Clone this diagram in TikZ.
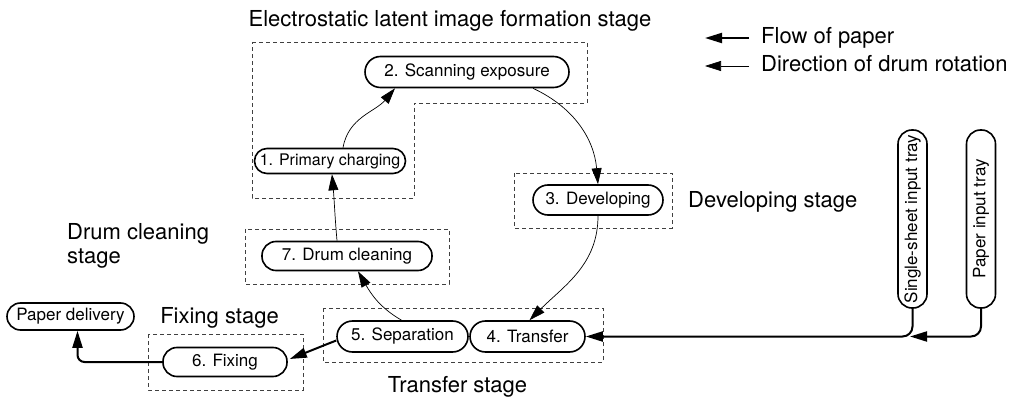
\documentclass[tikz,border=0pt]{standalone}
\usepackage{fontspec}
\setmainfont{TeX Gyre Heros}
\usetikzlibrary{arrows.meta,calc}
\begin{document}
\begin{tikzpicture}[x=1pt,y=1pt,
  stagebox/.style={draw=black!75, dash pattern=on 4pt off 3pt, line width=0.8pt},
  proc/.style={draw, line width=1.6pt, rectangle, rounded corners=14pt, inner sep=0pt,
    font=\fontsize{17}{20}\selectfont, minimum height=29pt, fill=white},
  smallproc/.style={proc, rounded corners=12.5pt, minimum height=25pt, font=\fontsize{16}{19}\selectfont},
  lbl/.style={font=\fontsize{22}{25}\selectfont, inner sep=0pt},
  rot/.style={-{Triangle[length=16pt,width=10pt]}, line width=0.7pt},
  flow/.style={-{Triangle[length=17pt,width=10pt]}, line width=2pt},
]
\useasboundingbox (0,0) rectangle (1020,-398);

% stage boxes
\draw[stagebox] (252,-42) -- (587,-42) -- (587,-103) -- (414,-103) -- (414,-198) -- (252,-198) -- cycle;
\draw[stagebox] (514,-173) rectangle (672,-228);
\draw[stagebox] (245,-229) rectangle (449,-284);
\draw[stagebox] (323,-308) rectangle (603,-362);
\draw[stagebox] (148,-334) rectangle (303,-390);

% process nodes
\node[proc, minimum width=204pt, minimum height=31pt, rounded corners=15.5pt] (n2) at (467,-72) {2. Scanning exposure};
\node[smallproc, minimum width=151pt] (n1) at (330,-161) {1. Primary charging};
\node[proc, minimum width=130pt, minimum height=30pt, rounded corners=15pt] (n3) at (598,-200) {3. Developing};
\node[proc, minimum width=170pt] (n7) at (347,-256) {7. Drum cleaning};
\node[proc, minimum width=131pt, minimum height=31pt, rounded corners=15.5pt] (n5) at (402.5,-336.5) {5. Separation};
\node[proc, minimum width=115pt, minimum height=31pt, rounded corners=15.5pt] (n4) at (527.5,-336.5) {4. Transfer};
\node[proc, minimum width=124pt] (n6) at (225,-362) {6. Fixing};
\node[proc, minimum width=127pt, minimum height=27pt, rounded corners=13.5pt] (pd) at (70.5,-316.5) {Paper delivery};
\node[proc, rotate=90, minimum width=178pt] (ss) at (912.5,-219) {Single-sheet input tray};
\node[proc, rotate=90, minimum width=178pt] (pt) at (981,-219) {Paper input tray};

% labels
\node[lbl, anchor=base] (t1) at (450,-27) {Electrostatic latent image formation stage};
\node[lbl, anchor=base west] (t3) at (688,-208) {Developing stage};
\node[lbl, anchor=base west] (t7a) at (67,-240) {Drum cleaning};
\node[lbl, anchor=base west] (t7b) at (67,-263) {stage};
\node[lbl, anchor=base] (t6) at (219.5,-323) {Fixing stage};
\node[lbl, anchor=base] (t4) at (457.5,-392) {Transfer stage};

% legend
\coordinate (fa) at (749,-38);
\coordinate (fb) at (705,-38);
\coordinate (ra) at (749,-66);
\coordinate (rb) at (705,-66);
\draw[flow] (fa) -- (fb);
\draw[rot] (ra) -- (rb);
\node[lbl, anchor=base west] (lf) at (761,-44) {Flow of paper};
\node[lbl, anchor=base west] (lr) at (761,-72) {Direction of drum rotation};

% drum rotation
\draw[rot] ($(n1.north)+(13,0)$) to[out=80,in=-130] ($(n2.south)+(-72,0)$);
\draw[rot] ($(n2.south)+(66,0)$) to[out=-25,in=95] (n3.north);
\draw[rot] (n3.south) to[out=-90,in=45] ($(n4.north)+(2,0)$);
\draw[rot] ($(n5.north)+(-1,0)$) to[out=150,in=-60] ($(n7.south)+(11,0)$);
\draw[rot] ($(n7.north)+(-10,0)$) to[out=95,in=-85] ($(n1.south)+(2,0)$);

% paper flow
\coordinate (m) at (910,-336.5);
\draw[flow, rounded corners=10pt] (ss.west) |- (n4.east);
\draw[flow, rounded corners=10pt] (pt.west) |- (m);
\draw[flow] ($(n5.west)+(0,-4)$) -- ($(n6.east)+(2,3)$);
\draw[flow, rounded corners=7pt] (n6.west) -| ($(pd.south)+(7,0)$);
\end{tikzpicture}
\end{document}
